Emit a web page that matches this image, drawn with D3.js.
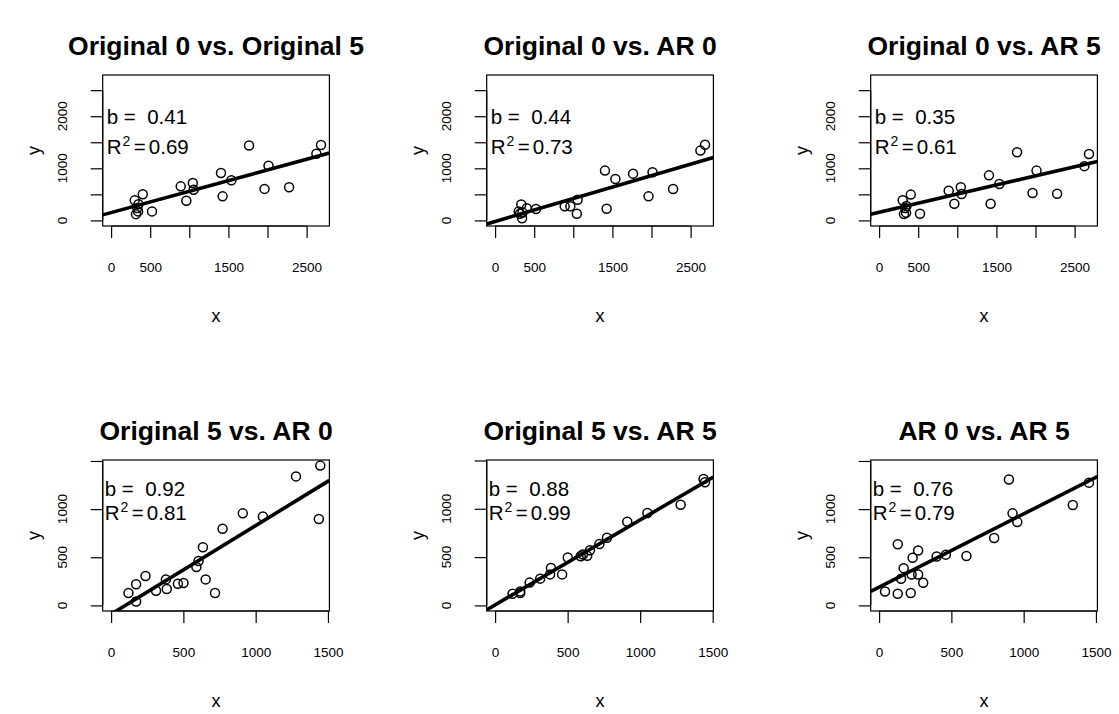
<!DOCTYPE html>
<html>
<head>
<meta charset="utf-8">
<script src="https://cdn.jsdelivr.net/npm/d3@7"></script>
<style>
  html, body { margin: 0; padding: 0; background: #fff; }
  svg { display: block; font-family: "Liberation Sans", Arial, Helvetica, sans-serif; }
  .pre { white-space: pre; }
</style>
</head>
<body>
<svg id="chart" width="1119" height="714"></svg>
<script>
// Four measurement series, one value per observation (same observation order in each).
const original0 = [523, 890, 962, 1045, 1055, 1405, 1426, 1538, 1764, 1962, 2013, 2276, 2625, 2684, 405, 302, 335, 350, 345, 318];
const original5 = [173, 654, 379, 719, 590, 911, 462, 771, 1437, 605, 1050, 635, 1279, 1447, 501, 385, 238, 311, 173, 120];
const ar0       = [219, 270, 270, 129, 398, 956, 225, 796, 898, 462, 923, 604, 1340, 1452, 232, 170, 305, 152, 41, 129];
const ar5       = [129, 571, 321, 635, 508, 865, 321, 700, 1308, 527, 956, 513, 1042, 1275, 495, 387, 236, 277, 145, 121];

// Panel titles and fitted regression results (slope b, intercept a, R squared)
const panelTitles = ["Original 0 vs. Original 5", "Original 0 vs. AR 0", "Original 0 vs. AR 5",
                     "Original 5 vs. AR 0", "Original 5 vs. AR 5", "AR 0 vs. AR 5"];
const slopes     = [0.41, 0.44, 0.35, 0.92, 0.88, 0.76];
const intercepts = [150, -20, 155, -91, 5, 190];
const rSquared   = [0.69, 0.73, 0.61, 0.81, 0.99, 0.79];

// Tick values and the labels printed beside them (blank = tick without label)
const topTicks = [0, 500, 1000, 1500, 2000, 2500];
const topXTickLabels = ["0", "500", "", "1500", "", "2500"];
const topYTickLabels = ["0", "", "1000", "", "2000", ""];
const bottomTicks = [0, 500, 1000, 1500];
const bottomXTickLabels = ["0", "500", "1000", "1500"];
const bottomYTickLabels = ["0", "500", "1000", ""];

const panels = [
  { xs: original0, ys: original5 },
  { xs: original0, ys: ar0 },
  { xs: original0, ys: ar5 },
  { xs: original5, ys: ar0 },
  { xs: original5, ys: ar5 },
  { xs: ar0,       ys: ar5 }
].map((p, i) => ({
  ...p,
  title: panelTitles[i], b: slopes[i], a: intercepts[i], r2: rSquared[i],
  row: Math.floor(i / 3), col: i % 3
}));

// Layout of the 2 x 3 grid of plot boxes
const boxLeft0 = 102.7, colStep = 384, boxW = 226.7;
const boxTop0 = 75, rowStep = 385, boxH = 151;
const tickLen = 12;
const font = '"Liberation Sans", Arial, Helvetica, sans-serif';

const svg = d3.select("#chart");
svg.append("rect").attr("width", 1119).attr("height", 714).attr("fill", "#fff");

panels.forEach((p, i) => {
  const L = boxLeft0 + p.col * colStep;
  const T = boxTop0 + p.row * rowStep;
  const B = T + boxH, R = L + boxW;

  // Both axes share the limits 0..max of the pair, padded by 4% as in base R
  const m = d3.max(p.xs.concat(p.ys));
  const dom = [-0.04 * m, 1.04 * m];
  const x = d3.scaleLinear().domain(dom).range([L, R]);
  const y = d3.scaleLinear().domain(dom).range([B, T]);

  const ticks = p.row === 0 ? topTicks : bottomTicks;
  const xLabels = p.row === 0 ? topXTickLabels : bottomXTickLabels;
  const yLabels = p.row === 0 ? topYTickLabels : bottomYTickLabels;

  const g = svg.append("g");

  // clip region for the regression line
  const clipId = "clip" + i;
  g.append("clipPath").attr("id", clipId)
    .append("rect").attr("x", L).attr("y", T).attr("width", boxW).attr("height", boxH);

  // bottom axis
  const xa = g.append("g").attr("transform", `translate(0,${B})`)
    .call(d3.axisBottom(x).tickValues(ticks).tickSize(tickLen).tickSizeOuter(0)
      .tickPadding(24).tickFormat((d, k) => xLabels[k]));
  xa.select(".domain").attr("d", `M${x(ticks[0])},0H${x(ticks[ticks.length - 1])}`)
    .attr("stroke", "#000").attr("stroke-width", 1.2);
  xa.selectAll(".tick line").attr("stroke", "#000").attr("stroke-width", 1.2);
  xa.selectAll(".tick text").attr("font-family", font).attr("font-size", 13.5).attr("fill", "#000");

  // left axis (labels are rotated, drawn separately)
  const ya = g.append("g").attr("transform", `translate(${L},0)`)
    .call(d3.axisLeft(y).tickValues(ticks).tickSize(tickLen).tickSizeOuter(0).tickFormat(""));
  ya.select(".domain").attr("d", `M0,${y(ticks[0])}V${y(ticks[ticks.length - 1])}`)
    .attr("stroke", "#000").attr("stroke-width", 1.2);
  ya.selectAll(".tick line").attr("stroke", "#000").attr("stroke-width", 1.2);
  ticks.forEach((t, k) => {
    if (!yLabels[k]) return;
    g.append("text")
      .attr("transform", `translate(${L - 40},${y(t)}) rotate(-90)`)
      .attr("text-anchor", "middle").attr("dy", "0.35em")
      .attr("font-family", font).attr("font-size", 13.5).text(yLabels[k]);
  });

  // plot frame
  g.append("rect").attr("x", L).attr("y", T).attr("width", boxW).attr("height", boxH)
    .attr("fill", "none").attr("stroke", "#000").attr("stroke-width", 1.2);

  // points
  g.selectAll("circle.pt").data(p.xs.map((v, k) => [v, p.ys[k]])).join("circle")
    .attr("class", "pt")
    .attr("cx", d => x(d[0])).attr("cy", d => y(d[1])).attr("r", 4.5)
    .attr("fill", "none").attr("stroke", "#000").attr("stroke-width", 1.5);

  // fitted line y = a + b x
  g.append("line").attr("clip-path", `url(#${clipId})`)
    .attr("x1", x(dom[0])).attr("y1", y(p.a + p.b * dom[0]))
    .attr("x2", x(dom[1])).attr("y2", y(p.a + p.b * dom[1]))
    .attr("stroke", "#000").attr("stroke-width", 3.6);

  // slope and R squared annotations
  const tx = L + (p.row === 0 ? 4 : 2);
  const bY = T + (p.row === 0 ? 49 : 36);
  const rY = T + (p.row === 0 ? 79 : 59.5);
  g.append("text").attr("class", "pre").attr("x", tx).attr("y", bY)
    .attr("font-family", font).attr("font-size", 20.5)
    .text("b =  " + p.b.toFixed(2));
  const rt = g.append("text").attr("x", tx).attr("y", rY)
    .attr("font-family", font).attr("font-size", 20.5);
  rt.append("tspan").text("R");
  rt.append("tspan").attr("font-size", 14).attr("dy", -8).attr("dx", 1).text("2");
  rt.append("tspan").attr("dy", 8).attr("dx", 3.5).text("=");
  rt.append("tspan").attr("dx", 3).text(p.r2.toFixed(2));

  // titles and axis names
  g.append("text").attr("x", (L + R) / 2).attr("y", T - 20).attr("text-anchor", "middle")
    .attr("font-family", font).attr("font-weight", "bold").attr("font-size", 26.5).text(p.title);
  g.append("text").attr("x", (L + R) / 2).attr("y", B + 96).attr("text-anchor", "middle")
    .attr("font-family", font).attr("font-size", 18).text("x");
  g.append("text").attr("transform", `translate(${L - 63},${(T + B) / 2}) rotate(-90)`)
    .attr("text-anchor", "middle")
    .attr("font-family", font).attr("font-size", 18).text("y");
});
</script>
</body>
</html>
